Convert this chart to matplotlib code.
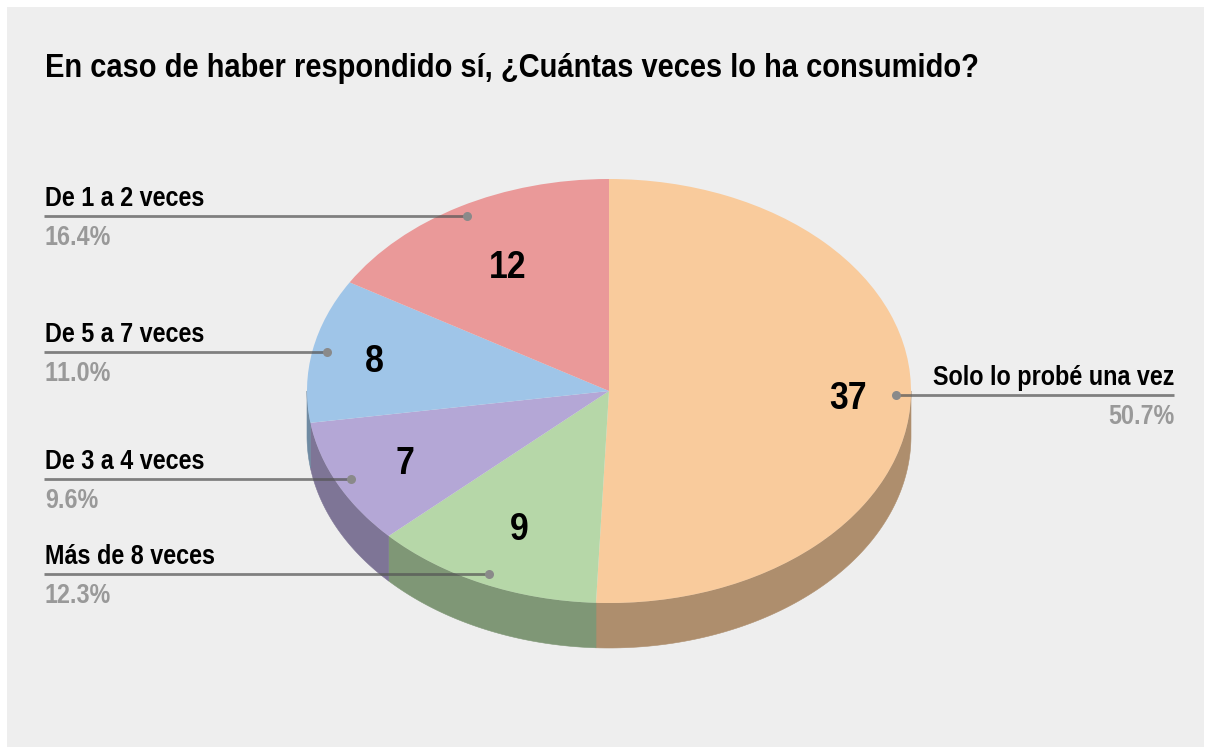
import numpy as np
import matplotlib
matplotlib.use("Agg")
import matplotlib.pyplot as plt
from matplotlib import font_manager as fm
from matplotlib.patches import Rectangle

title = "En caso de haber respondido sí, ¿Cuántas veces lo ha consumido?"
categories = ["Solo lo probé una vez", "Más de 8 veces", "De 3 a 4 veces", "De 5 a 7 veces", "De 1 a 2 veces"]
values = [37, 9, 7, 8, 12]
percent_labels = ["50.7%", "12.3%", "9.6%", "11.0%", "16.4%"]
colors = ["#F9CB9C", "#B6D7A8", "#B4A7D6", "#9FC5E8", "#EA9999"]

W, H = 1205, 748
CX, CY, RX, RY, DEPTH = 609.0, 391.0, 302.0, 212.0, 45.0
SQUEEZE = 0.87


def condensed_family(scale):
    """Build a horizontally condensed copy of Liberation Sans Bold for the reference's narrow type."""
    from fontTools.ttLib import TTFont
    from fontTools.ttLib.tables import ttProgram
    src = fm.findfont(fm.FontProperties(family="Liberation Sans", weight="bold"))
    f = TTFont(src)
    glyf = f["glyf"]
    for name in f.getGlyphOrder():
        g = glyf[name]
        if g.isComposite():
            for c in g.components:
                c.x = int(round(c.x * scale))
        elif g.numberOfContours > 0:
            g.coordinates.scale((scale, 1))
            g.coordinates.toInt()
        if g.numberOfContours != 0:
            g.program = ttProgram.Program()
            g.program.fromBytecode(b"")
    for name in f.getGlyphOrder():
        glyf[name].recalcBounds(glyf)
    hmtx = f["hmtx"]
    for name, (adv, lsb) in list(hmtx.metrics.items()):
        hmtx.metrics[name] = (int(round(adv * scale)), int(round(lsb * scale)))
    for tag in ("kern", "GPOS", "GSUB", "GDEF", "fpgm", "prep", "cvt ", "hdmx", "VDMX", "LTSH"):
        if tag in f:
            del f[tag]
    fam = "Resketch Condensed"
    for rec in f["name"].names:
        if rec.nameID in (1, 16):
            rec.string = fam
        elif rec.nameID == 4:
            rec.string = fam + " Bold"
        elif rec.nameID == 6:
            rec.string = "ResketchCondensed-Bold"
    f.save("condensed.ttf")
    fm.fontManager.addfont("condensed.ttf")
    return [fam, "Liberation Sans"]


FONT = condensed_family(SQUEEZE)


def nx(px):
    return (px - CX) / RX


def ny(py):
    return (CY - py) / RY


fig = plt.figure(figsize=(W / 100, H / 100), dpi=100, facecolor="white")
ax = fig.add_axes([0, 0, 1, 1])

# the pie's unit circle maps onto the ellipse because the axes aspect is free
wedges, _ = ax.pie(values, colors=colors, startangle=90, counterclock=False, radius=1.0,
                   center=(0, 0), wedgeprops=dict(linewidth=0), normalize=True, frame=False)
ax.set_aspect("auto")
ax.set_xlim(nx(0), nx(W))
ax.set_ylim(ny(H), ny(0))
ax.axis("off")

ax.add_patch(Rectangle((nx(7), ny(747)), nx(1204) - nx(7), ny(7) - ny(747),
                       facecolor="#EEEEEE", edgecolor="none", zorder=0))

# side wall of the disc: each wedge's arc on the lower half, extruded downward
d = DEPTH / RY
for w, col in zip(wedges, colors):
    w.set_zorder(3)
    t1, t2 = w.theta1 % 360, w.theta2 % 360
    if t2 <= t1:
        t2 += 360
    spans = [(max(t1, 180), min(t2, 360)), (max(t1, 540), min(t2, 720))]
    for a, b in spans:
        if b <= a:
            continue
        th = np.radians(np.linspace(a, b, 120))
        xs = np.cos(th)
        ys = np.sin(th)
        rgb = np.array(matplotlib.colors.to_rgb(col)) * 0.70
        ax.fill(np.r_[xs, xs[::-1]], np.r_[ys, ys[::-1] - d], color=rgb, lw=0.4, zorder=2)

# leader lines, dots and labels, positioned in pixels
label_layout = {
    "De 1 a 2 veces": dict(x0=44, x1=467, y=216, ha="left", tx=45),
    "De 5 a 7 veces": dict(x0=44, x1=327, y=352, ha="left", tx=45),
    "De 3 a 4 veces": dict(x0=44, x1=351, y=479, ha="left", tx=45),
    "Más de 8 veces": dict(x0=44, x1=489, y=574, ha="left", tx=45),
    "Solo lo probé una vez": dict(x0=1174, x1=896, y=395, ha="right", tx=1174),
}
count_pos = {
    "De 1 a 2 veces": (508, 268),
    "De 5 a 7 veces": (374, 362),
    "De 3 a 4 veces": (405, 464),
    "Más de 8 veces": (519, 530),
    "Solo lo probé una vez": (848, 399),
}
for cat, val, pct in zip(categories, values, percent_labels):
    p = label_layout[cat]
    ax.plot([nx(p["x0"]), nx(p["x1"])], [ny(p["y"]), ny(p["y"])], color="#555555", alpha=0.72,
            lw=2.0, solid_capstyle="butt", zorder=5)
    ax.plot([nx(p["x1"])], [ny(p["y"])], "o", color="#8A8A8A", ms=6.5, mew=0, zorder=6)
    ax.text(nx(p["tx"]), ny(p["y"] - 10), cat, ha=p["ha"], va="baseline", family=FONT,
            weight="bold", fontsize=19.4, color="#000000", zorder=7)
    ax.text(nx(p["tx"]), ny(p["y"] + 29), pct, ha=p["ha"], va="baseline", family=FONT,
            weight="bold", fontsize=19.3, color="#999999", zorder=7)
    cx, cy = count_pos[cat]
    ax.text(nx(cx), ny(cy), str(val), ha="center", va="center", family=FONT,
            weight="bold", fontsize=28, color="#000000", zorder=7)

ax.text(nx(45), ny(77), title, ha="left", va="baseline", family=FONT, weight="bold",
        fontsize=24, color="#000000", zorder=7)

fig.savefig("out.png", dpi=100, facecolor="white")
